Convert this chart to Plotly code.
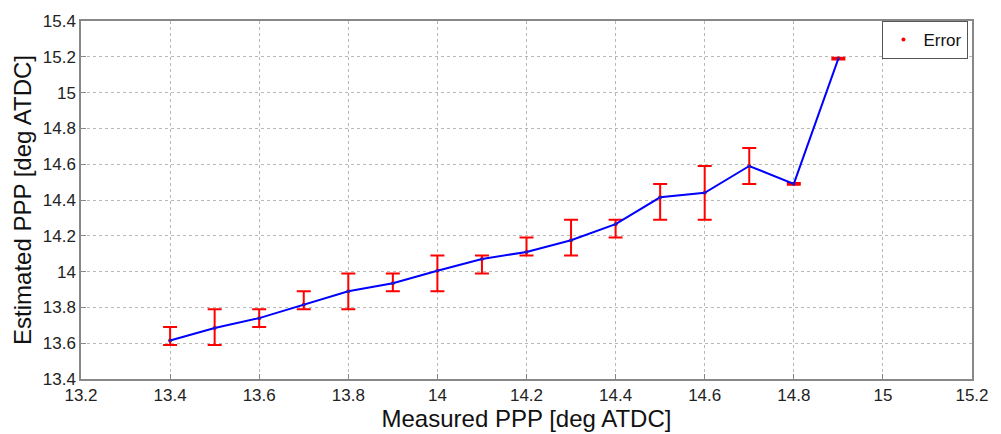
import plotly.graph_objects as go

measured = [13.4, 13.5, 13.6, 13.7, 13.8, 13.9, 14.0, 14.1, 14.2, 14.3, 14.4, 14.5, 14.6, 14.7, 14.8, 14.9]
estimated = [13.615, 13.685, 13.74, 13.815, 13.89, 13.935, 14.005, 14.07, 14.11, 14.175, 14.265, 14.415, 14.44, 14.59, 14.49, 15.19]
err_low = [13.59, 13.59, 13.69, 13.79, 13.79, 13.89, 13.89, 13.99, 14.09, 14.09, 14.19, 14.29, 14.29, 14.49, 14.485, 15.185]
err_high = [13.69, 13.79, 13.79, 13.89, 13.99, 13.99, 14.09, 14.09, 14.19, 14.29, 14.29, 14.49, 14.59, 14.69, 14.495, 15.195]

x_ticks = [13.2, 13.4, 13.6, 13.8, 14.0, 14.2, 14.4, 14.6, 14.8, 15.0, 15.2]
x_tick_text = ["13.2", "13.4", "13.6", "13.8", "14", "14.2", "14.4", "14.6", "14.8", "15", "15.2"]
y_ticks = [13.4, 13.6, 13.8, 14.0, 14.2, 14.4, 14.6, 14.8, 15.0, 15.2, 15.4]
y_tick_text = ["13.4", "13.6", "13.8", "14", "14.2", "14.4", "14.6", "14.8", "15", "15.2", "15.4"]

plus = [h - e for h, e in zip(err_high, estimated)]
minus = [e - l for e, l in zip(estimated, err_low)]

fig = go.Figure()
fig.add_trace(go.Scatter(
    x=measured, y=estimated, mode="markers", name="Error",
    marker=dict(color="red", size=4),
    error_y=dict(type="data", symmetric=False, array=plus, arrayminus=minus,
                 color="red", thickness=2, width=7),
    showlegend=True,
))
fig.add_trace(go.Scatter(
    x=measured, y=estimated, mode="lines+markers",
    line=dict(color="blue", width=2),
    marker=dict(color="#2020c0", size=3),
    showlegend=False,
))

axis_common = dict(
    showgrid=True, gridcolor="#b8b8b8", griddash="dot", gridwidth=1,
    showline=True, linecolor="#888888", linewidth=1.5, mirror=True,
    ticks="inside", ticklen=5, tickcolor="#888888",
    zeroline=False,
    tickfont=dict(family="Liberation Sans, Arial, sans-serif", size=17, color="#222222"),
)

fig.update_layout(
    width=1001, height=434,
    margin=dict(l=81, r=21, t=16, b=46),
    paper_bgcolor="white", plot_bgcolor="white",
    font=dict(family="Liberation Sans, Arial, sans-serif", color="#111111"),
    xaxis=dict(range=[13.2, 15.2], tickvals=x_ticks, ticktext=x_tick_text,
               title=dict(text="Measured PPP [deg ATDC]", font=dict(size=24), standoff=0),
               **axis_common),
    yaxis=dict(range=[13.4, 15.4], tickvals=y_ticks, ticktext=y_tick_text,
               title=dict(text="Estimated PPP [deg ATDC]", font=dict(size=24), standoff=4),
               **axis_common),
    legend=dict(x=0.996, y=1.0, xanchor="right", yanchor="top",
                bgcolor="white", bordercolor="#555555", borderwidth=1,
                font=dict(size=17), tracegroupgap=0),
)

fig.write_html("out.html")
